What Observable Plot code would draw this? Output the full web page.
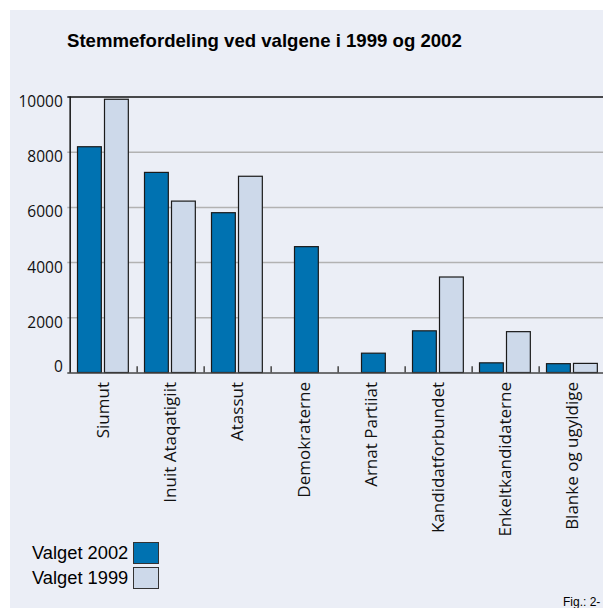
<!DOCTYPE html>
<html>
<head>
<meta charset="utf-8">
<script src="https://cdn.jsdelivr.net/npm/d3@7"></script>
<script src="https://cdn.jsdelivr.net/npm/@observablehq/plot@0.6"></script>
<style>
  html, body { margin: 0; padding: 0; background: #fff; overflow: hidden; }
  #wrap { position: relative; width: 603px; height: 608px; overflow: hidden; }
  #bg { position: absolute; left: 10px; top: 10px; right: 0; bottom: 0; background: #ebeef6; }
  #title { position: absolute; left: 67px; top: 31px; font: bold 18.6px "Liberation Sans", Arial, sans-serif; color: #000; line-height: 19px; white-space: nowrap; }
  #chart { position: absolute; left: 0; top: 0; }
  .leg { position: absolute; left: 32px; font: 18.3px "Liberation Sans", Arial, sans-serif; color: #000; line-height: 18px; white-space: nowrap; display: flex; align-items: center; }
  .sw { display: inline-block; width: 24px; height: 20px; border: 1px solid #333; margin-left: 5px; box-sizing: content-box; }
  #fig { position: absolute; left: 563px; top: 595px; font: 12px "Liberation Sans", Arial, sans-serif; color: #000; white-space: nowrap; }
</style>
</head>
<body>
<div id="wrap">
  <div id="bg"></div>
  <div id="title"></div>
  <div id="chart"></div>
  <div id="legend"></div>
  <div id="fig">Fig.: 2-</div>
</div>
<script>
const title = "Stemmefordeling ved valgene i 1999 og 2002";
const parties = ["Siumut", "Inuit Ataqatigiit", "Atassut", "Demokraterne", "Arnat Partiiat", "Kandidatforbundet", "Enkeltkandidaterne", "Blanke og ugyldige"];
const votes2002 = [8180, 7250, 5790, 4560, 700, 1510, 350, 320];
const votes1999 = [9900, 6210, 7110, null, null, 3460, 1480, 330];
const seriesNames = ["Valget 2002", "Valget 1999"];
const yTicks = [0, 2000, 4000, 6000, 8000, 10000];
const colors = ["#0072b1", "#cdd9ea"];

document.getElementById("title").textContent = title;

const rows = parties.map((p, i) => ({party: p, v2002: votes2002[i], v1999: votes1999[i]}));
const paired = rows.filter(d => d.v1999 != null);
const solo = rows.filter(d => d.v1999 == null);

const step = (608.7 - 67.3) / parties.length;
const barStroke = "#1a1a1a";

const chart = Plot.plot({
  width: 603,
  height: 608,
  marginLeft: 67.3,
  marginRight: 0,
  marginTop: 96.5,
  marginBottom: 235.5,
  style: {fontFamily: "'Open Sans', sans-serif", background: "transparent", overflow: "visible", color: "#111"},
  x: {domain: parties, range: [67.3, 608.7], padding: 0, axis: null, label: null},
  y: {domain: [0, 10000], range: [372.5, 96.5], axis: null, label: null},
  marks: [
    Plot.ruleY(yTicks.filter(t => t > 0 && t < 10000), {stroke: "#b2b2b2", strokeWidth: 1.5}),
    Plot.ruleY([10000], {stroke: "#111", strokeWidth: 1.5}),
    Plot.barY(paired, {x: "party", y: "v2002", fill: colors[0], stroke: barStroke, strokeWidth: 1.2, insetLeft: 7.5, insetRight: step - 32}),
    Plot.barY(solo, {x: "party", y: "v2002", fill: colors[0], stroke: barStroke, strokeWidth: 1.2, insetLeft: 23.5, insetRight: step - 48}),
    Plot.barY(paired, {x: "party", y: "v1999", fill: colors[1], stroke: barStroke, strokeWidth: 1.2, insetLeft: 34.5, insetRight: step - 59}),
    Plot.ruleY([0], {stroke: "#444", strokeWidth: 1.5}),
    Plot.ruleX(parties.slice(1), {x: d => d, y1: 0, y2: 230, dx: -step / 2, stroke: "#444", strokeWidth: 1.5}),
    Plot.ruleX([parties[0]], {x: d => d, y1: 0, y2: 10000, dx: -step / 2, stroke: "#111", strokeWidth: 1.5}),
    Plot.axisX({tickRotate: -90, tickSize: 0, tickPadding: 9, fontSize: 17, fill: "#111", label: null}),
    Plot.axisY({ticks: yTicks.filter(t => t > 0), tickFormat: d => String(d), tickSize: 0, tickPadding: 5, dy: 5, fontSize: 15.5, fill: "#111", label: null}),
    Plot.axisY({ticks: [0], tickFormat: d => String(d), tickSize: 0, tickPadding: 5, dy: -6, fontSize: 15.5, fill: "#111", label: null})
  ]
});
document.getElementById("chart").appendChild(chart);

const legend = document.getElementById("legend");
seriesNames.forEach((name, i) => {
  const el = document.createElement("div");
  el.className = "leg";
  el.style.top = (542 + i * 25) + "px";
  el.innerHTML = `<span>${name}</span><span class="sw" style="background:${colors[i]}"></span>`;
  legend.appendChild(el);
});
</script>
</body>
</html>
